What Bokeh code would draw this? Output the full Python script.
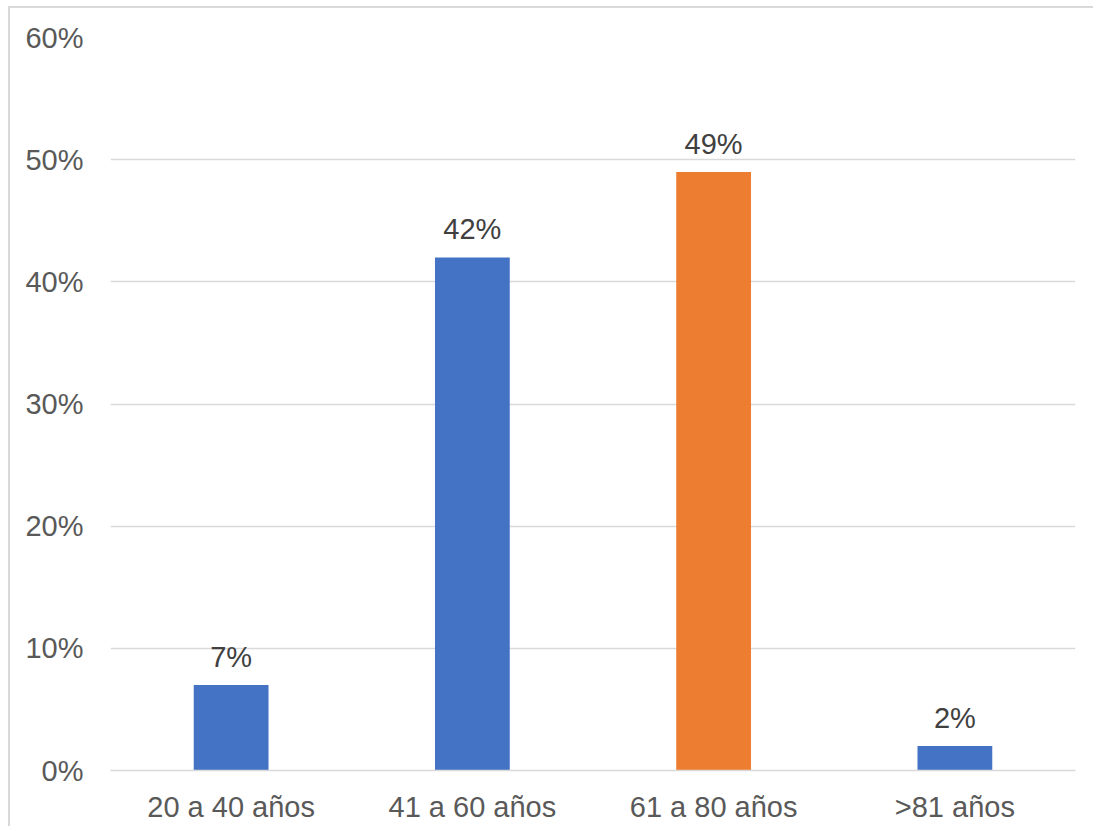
from bokeh.plotting import figure
from bokeh.models import ColumnDataSource, NumeralTickFormatter, FixedTicker
from bokeh.core.properties import value
from bokeh.embed import file_html
from bokeh.resources import INLINE

categories = ["20 a 40 años", "41 a 60 años", "61 a 80 años", ">81 años"]
values = [7, 42, 49, 2]
colors = ["#4472C4", "#4472C4", "#ED7D31", "#4472C4"]

src = ColumnDataSource(dict(
    cat=categories,
    val=[v / 100 for v in values],
    col=colors,
    lab=[f"{v}%" for v in values],
))

p = figure(x_range=categories, y_range=(0, 0.6), width=1085, height=820,
           output_backend="svg", toolbar_location=None,
           min_border_left=100, min_border_right=20, min_border_top=29, min_border_bottom=58)
p.styles = {"border-left": "2px solid #d9d9d9", "border-top": "2px solid #d9d9d9",
            "margin-left": "8px", "margin-top": "6px"}
p.outline_line_color = None
p.background_fill_color = "white"
p.border_fill_color = "white"

p.vbar(x="cat", top="val", width=0.31, color="col", source=src, line_color=None)
p.text(x="cat", y="val", text="lab", source=src, text_align="center", text_baseline="bottom",
       y_offset=-12, text_font=value("Liberation Sans"), text_font_size="29px", text_color="#404040")

p.yaxis.ticker = FixedTicker(ticks=[0, 0.1, 0.2, 0.3, 0.4, 0.5, 0.6])
p.yaxis.formatter = NumeralTickFormatter(format="0%")
p.yaxis.axis_line_color = None
p.yaxis.major_tick_line_color = None
p.yaxis.minor_tick_line_color = None
p.yaxis.major_label_text_font = "Liberation Sans"
p.yaxis.major_label_text_font_size = "29px"
p.yaxis.major_label_text_color = "#595959"
p.yaxis.major_label_standoff = 21

p.xaxis.axis_line_color = "#d9d9d9"
p.xaxis.axis_line_width = 1.5
p.xaxis.major_tick_line_color = None
p.xaxis.minor_tick_line_color = None
p.xaxis.major_label_text_font = "Liberation Sans"
p.xaxis.major_label_text_font_size = "29px"
p.xaxis.major_label_text_color = "#595959"
p.xaxis.major_label_standoff = 14

p.xgrid.grid_line_color = None
p.ygrid.grid_line_color = "#d9d9d9"
p.ygrid.grid_line_width = 1.5

open("out.html", "w").write(file_html(p, INLINE))
